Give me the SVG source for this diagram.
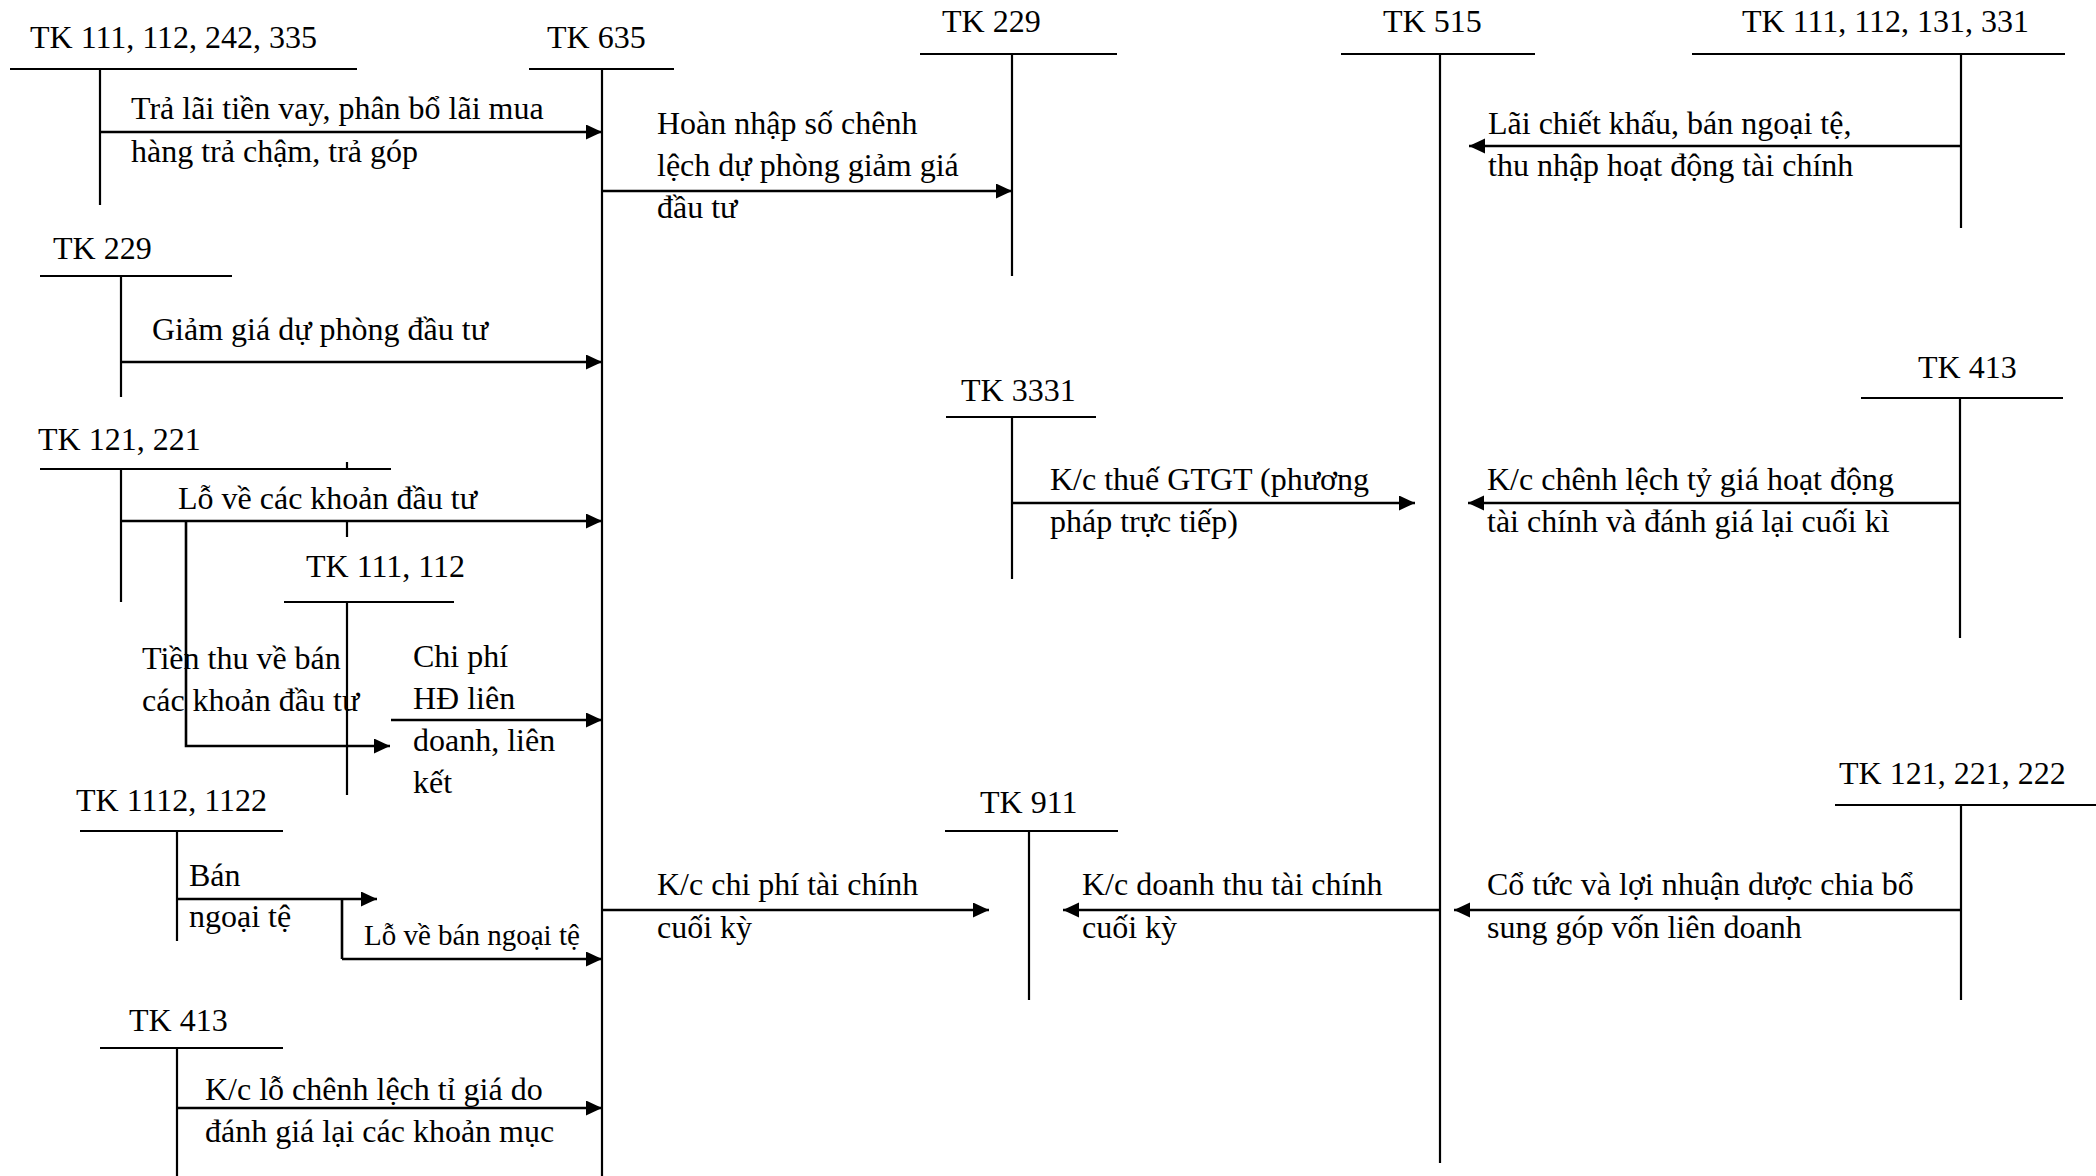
<svg xmlns="http://www.w3.org/2000/svg" width="2096" height="1176" viewBox="0 0 2096 1176">
  <style>
    .bg { fill: #ffffff; }
    .t-line { stroke: #000; stroke-width: 2.2; fill: none; }
    .flow { stroke: #000; stroke-width: 2.6; fill: none; marker-end: url(#head); }
    .plain { stroke: #000; stroke-width: 2.6; fill: none; }
    text { font-family: "Liberation Serif", "Times New Roman", serif; font-size: 32px; fill: #000; }
    .small { font-size: 29px; }
  </style>
  <defs>
    <marker id="head" markerUnits="userSpaceOnUse" markerWidth="18" markerHeight="16" refX="16" refY="7.5" orient="auto">
      <path d="M0,0 L16,7.5 L0,15 Z" fill="#000"/>
    </marker>
  </defs>

  <rect class="bg" x="0" y="0" width="2096" height="1176"/>

  <!-- T-accounts: title, horizontal bar and vertical stem -->
  <g id="tk-111-112-242-335">
    <text x="30" y="48">TK 111, 112, 242, 335</text>
    <path class="t-line" d="M10,69 H357 M100,69 V205"/>
  </g>
  <g id="tk-635">
    <text x="547" y="48">TK 635</text>
    <path class="t-line" d="M529,69 H674 M602,69 V1176"/>
  </g>
  <g id="tk-229-right">
    <text x="942" y="32">TK 229</text>
    <path class="t-line" d="M920,54 H1117 M1012,54 V276"/>
  </g>
  <g id="tk-515">
    <text x="1383" y="32">TK 515</text>
    <path class="t-line" d="M1341,54 H1535 M1440,54 V1163"/>
  </g>
  <g id="tk-111-112-131-331">
    <text x="1742" y="32">TK 111, 112, 131, 331</text>
    <path class="t-line" d="M1692,54 H2065 M1961,54 V228"/>
  </g>
  <g id="tk-229-left">
    <text x="53" y="259">TK 229</text>
    <path class="t-line" d="M40,276 H232 M121,276 V397"/>
  </g>
  <g id="tk-121-221">
    <text x="38" y="450">TK 121, 221</text>
    <path class="t-line" d="M40,469 H391 M121,469 V602"/>
  </g>
  <g id="tk-111-112">
    <text x="306" y="577">TK 111, 112</text>
    <path class="t-line" d="M284,602 H454 M347,602 V795 M347,462 V470 M347,522 V537"/>
  </g>
  <g id="tk-3331">
    <text x="961" y="401">TK 3331</text>
    <path class="t-line" d="M946,417 H1096 M1012,417 V579"/>
  </g>
  <g id="tk-413-right">
    <text x="1918" y="378">TK 413</text>
    <path class="t-line" d="M1861,398 H2063 M1960,398 V638"/>
  </g>
  <g id="tk-1112-1122">
    <text x="76" y="811">TK 1112, 1122</text>
    <path class="t-line" d="M80,831 H283 M177,831 V941"/>
  </g>
  <g id="tk-911">
    <text x="980" y="813">TK 911</text>
    <path class="t-line" d="M945,831 H1118 M1029,831 V1000"/>
  </g>
  <g id="tk-121-221-222">
    <text x="1839" y="784">TK 121, 221, 222</text>
    <path class="t-line" d="M1835,805 H2096 M1961,805 V1000"/>
  </g>
  <g id="tk-413-left">
    <text x="129" y="1031">TK 413</text>
    <path class="t-line" d="M100,1048 H283 M177,1048 V1176"/>
  </g>

  <!-- Entries between accounts -->
  <g id="connectors">
    <g id="e-lai-vay">
      <path class="flow" d="M100,132 H602"/>
      <text x="131" y="119">Trả lãi tiền vay, phân bổ lãi mua</text>
      <text x="131" y="162">hàng trả chậm, trả góp</text>
    </g>
    <g id="e-hoan-nhap">
      <path class="flow" d="M602,191 H1012"/>
      <text x="657" y="134">Hoàn nhập số chênh</text>
      <text x="657" y="176">lệch dự phòng giảm giá</text>
      <text x="657" y="218">đầu tư</text>
    </g>
    <g id="e-lai-chiet-khau">
      <path class="flow" d="M1961,146 H1469"/>
      <text x="1488" y="134">Lãi chiết khấu, bán ngoại tệ,</text>
      <text x="1488" y="176">thu nhập hoạt động tài chính</text>
    </g>
    <g id="e-giam-du-phong">
      <path class="flow" d="M121,362 H602"/>
      <text x="152" y="340">Giảm giá dự phòng đầu tư</text>
    </g>
    <g id="e-lo-dau-tu">
      <path class="flow" d="M121,521 H602"/>
      <text x="178" y="509">Lỗ về các khoản đầu tư</text>
    </g>
    <g id="e-tien-thu">
      <path class="flow" d="M186,521 V746 H390"/>
      <text x="142" y="669">Tiền thu về bán</text>
      <text x="142" y="711">các khoản đầu tư</text>
    </g>
    <g id="e-chi-phi-lien-doanh">
      <path class="flow" d="M391,720 H602"/>
      <text x="413" y="667">Chi phí</text>
      <text x="413" y="709">HĐ liên</text>
      <text x="413" y="751">doanh, liên</text>
      <text x="413" y="793">kết</text>
    </g>
    <g id="e-ban-ngoai-te">
      <path class="flow" d="M177,899 H377"/>
      <text x="189" y="886">Bán</text>
      <text x="189" y="927">ngoại tệ</text>
    </g>
    <g id="e-lo-ban-ngoai-te">
      <path class="plain" d="M342,899 V959"/>
      <path class="flow" d="M342,959 H602"/>
      <text class="small" x="364" y="945">Lỗ về bán ngoại tệ</text>
    </g>
    <g id="e-lo-chenh-lech">
      <path class="flow" d="M177,1108 H602"/>
      <text x="205" y="1100">K/c lỗ chênh lệch tỉ giá do</text>
      <text x="205" y="1142">đánh giá lại các khoản mục</text>
    </g>
    <g id="e-thue-gtgt">
      <path class="flow" d="M1012,503 H1415"/>
      <text x="1050" y="490">K/c thuế GTGT (phương</text>
      <text x="1050" y="532">pháp trực tiếp)</text>
    </g>
    <g id="e-chenh-lech-ty-gia">
      <path class="flow" d="M1960,503 H1468"/>
      <text x="1487" y="490">K/c chênh lệch tỷ giá hoạt động</text>
      <text x="1487" y="532">tài chính và đánh giá lại cuối kì</text>
    </g>
    <g id="e-kc-chi-phi">
      <path class="flow" d="M602,910 H989"/>
      <text x="657" y="895">K/c chi phí tài chính</text>
      <text x="657" y="938">cuối kỳ</text>
    </g>
    <g id="e-kc-doanh-thu">
      <path class="flow" d="M1440,910 H1063"/>
      <text x="1082" y="895">K/c doanh thu tài chính</text>
      <text x="1082" y="938">cuối kỳ</text>
    </g>
    <g id="e-co-tuc">
      <path class="flow" d="M1961,910 H1454"/>
      <text x="1487" y="895">Cổ tức và lợi nhuận dược chia bổ</text>
      <text x="1487" y="938">sung góp vốn liên doanh</text>
    </g>
  </g>
</svg>
